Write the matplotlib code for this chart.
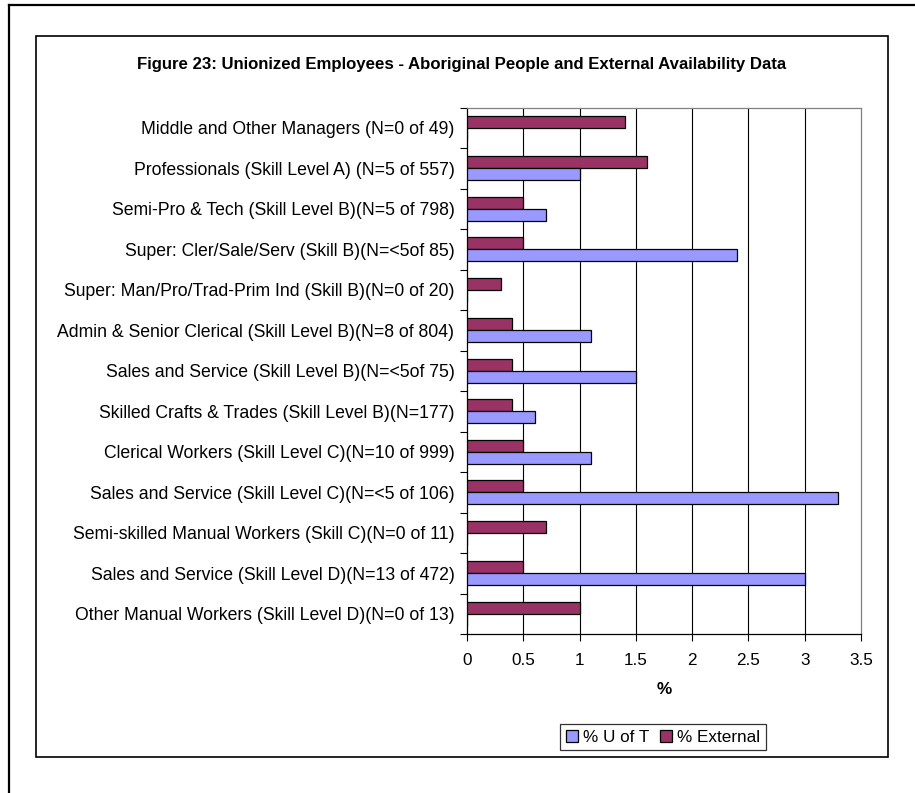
import matplotlib
matplotlib.use("Agg")
import matplotlib.pyplot as plt
import numpy as np
from matplotlib.lines import Line2D
from matplotlib.patches import Rectangle

plt.rcParams['font.family'] = ['Liberation Sans', 'DejaVu Sans']

categories = [
    "Middle and Other Managers (N=0 of 49)",
    "Professionals (Skill Level A) (N=5 of 557)",
    "Semi-Pro & Tech (Skill Level B)(N=5 of 798)",
    "Super: Cler/Sale/Serv (Skill B)(N=<5of 85)",
    "Super: Man/Pro/Trad-Prim Ind (Skill B)(N=0 of 20)",
    "Admin & Senior Clerical (Skill Level B)(N=8 of 804)",
    "Sales and Service (Skill Level B)(N=<5of 75)",
    "Skilled Crafts & Trades (Skill Level B)(N=177)",
    "Clerical Workers (Skill Level C)(N=10 of 999)",
    "Sales and Service (Skill Level C)(N=<5 of 106)",
    "Semi-skilled Manual Workers (Skill C)(N=0 of 11)",
    "Sales and Service (Skill Level D)(N=13 of 472)",
    "Other Manual Workers (Skill Level D)(N=0 of 13)",
]
u_of_t = [0, 1.0, 0.7, 2.4, 0, 1.1, 1.5, 0.6, 1.1, 3.3, 0, 3.0, 0]
external = [1.4, 1.6, 0.5, 0.5, 0.3, 0.4, 0.4, 0.4, 0.5, 0.5, 0.7, 0.5, 1.0]
x_ticks = [0, 0.5, 1, 1.5, 2, 2.5, 3, 3.5]
x_tick_labels = ["0", "0.5", "1", "1.5", "2", "2.5", "3", "3.5"]
title = "Figure 23: Unionized Employees - Aboriginal People and External Availability Data"
series_names = ["% U of T", "% External"]

W, H = 915, 793
fig = plt.figure(figsize=(W / 100, H / 100), dpi=100)

def fx(px):
    return px / W

def fy(py):
    return 1 - py / H

# borders
fig.add_artist(Line2D([fx(9), fx(915)], [fy(5), fy(5)], color='black', lw=1.6, transform=fig.transFigure))
fig.add_artist(Line2D([fx(9), fx(9)], [fy(5), fy(793)], color='black', lw=1.6, transform=fig.transFigure))
fig.add_artist(Rectangle((fx(36), fy(757)), fx(888) - fx(36), fy(36) - fy(757),
                         fill=False, edgecolor='black', lw=1.2, transform=fig.transFigure))

left, right, top, bottom = 467, 861, 107.5, 634
ax = fig.add_axes([fx(left), fy(bottom), fx(right) - fx(left), fy(top) - fy(bottom)])

FS = 12.7
n = len(categories)
y = np.arange(n)
h = 0.3
ax.barh(y - h / 2, external, height=h, color='#993366', edgecolor='black', lw=0.9,
        label=series_names[1], zorder=3)
ax.barh(y + h / 2, u_of_t, height=h, color='#9999FF', edgecolor='black', lw=0.9,
        label=series_names[0], zorder=3)

ax.set_ylim(n - 0.5, -0.5)
ax.set_xlim(0, 3.5)
ax.set_xticks(x_ticks)
ax.set_xticklabels(x_tick_labels, fontsize=12.3)
ax.set_yticks(y)
ax.set_yticklabels(categories, fontsize=FS)
ax.tick_params(axis='y', which='major', length=0, pad=9)
ax.set_yticks(np.arange(-0.5, n, 1), minor=True)
ax.tick_params(axis='y', which='minor', length=5, width=0.8, direction='out')
ax.tick_params(axis='x', which='major', length=5, width=0.8, direction='out', pad=9)

for xv in x_ticks[1:-1]:
    ax.axvline(xv, color='black', lw=0.8, zorder=1)

ax.spines['left'].set_color('black')
ax.spines['bottom'].set_color('black')
ax.spines['top'].set_color('#808080')
ax.spines['right'].set_color('#808080')
for s in ax.spines.values():
    s.set_linewidth(0.9)

ax.set_xlabel("%", fontsize=12.3, fontweight='bold', labelpad=10)

fig.text(fx(462), fy(65), title, ha='center', va='center', fontsize=12.1, fontweight='bold')

handles, labels = ax.get_legend_handles_labels()
leg = fig.legend([handles[1], handles[0]], [labels[1], labels[0]],
                 loc='center', bbox_to_anchor=(fx(663), fy(737)), ncol=2,
                 fontsize=12.3, frameon=True, fancybox=False, edgecolor='black',
                 handlelength=0.7, handleheight=0.7, handletextpad=0.3,
                 columnspacing=0.6, borderpad=0.35, borderaxespad=0)
leg.get_frame().set_linewidth(0.9)

fig.savefig("out.png", dpi=100)
